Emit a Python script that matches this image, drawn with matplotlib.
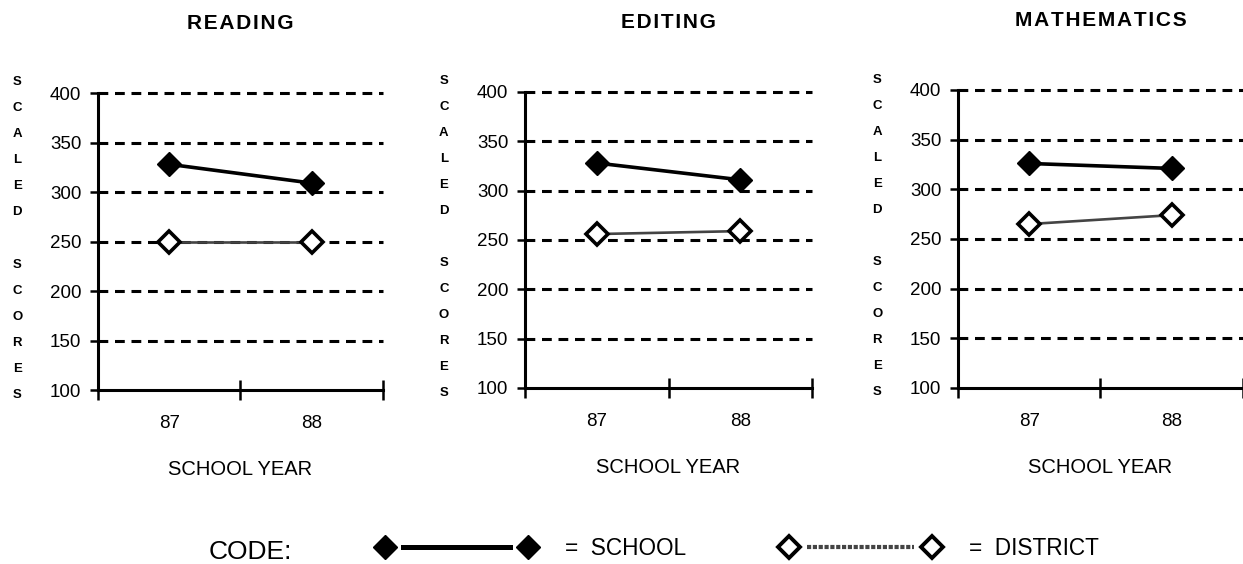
import matplotlib.pyplot as plt
from matplotlib.lines import Line2D
from matplotlib.legend_handler import HandlerLine2D

plt.rcParams['font.family'] = ['Liberation Sans', 'DejaVu Sans']

# --- data ---
years = ["87", "88"]
subjects = ["READING", "EDITING", "MATHEMATICS"]
reading_school = [328, 309]
reading_district = [250, 250]
editing_school = [328, 311]
editing_district = [256, 259]
math_school = [326, 321]
math_district = [265, 274]
y_ticks = [100, 150, 200, 250, 300, 350, 400]
axis_letters = "SCALED SCORES"

school = [reading_school, editing_school, math_school]
district = [reading_district, editing_district, math_district]

# panel boxes in figure fractions (left, bottom, width, height)
boxes = [
    (0.0788, 0.3085, 0.2293, 0.5266),
    (0.4224, 0.3121, 0.2309, 0.5248),
    (0.7707, 0.3121, 0.2293, 0.5284),
]


class GapLine(HandlerLine2D):
    """Legend key: a marker at each end, line stopping short of them."""

    def create_artists(self, legend, orig_handle, xdescent, ydescent,
                       width, height, fontsize, trans):
        xdata, _ = self.get_xdata(legend, xdescent, ydescent, width, height, fontsize)
        y = (height - ydescent) / 2
        gap = 0.8 * fontsize
        line = Line2D([xdata[0] + gap, xdata[-1] - gap], [y, y])
        self.update_prop(line, orig_handle, legend)
        line.set_marker("None")
        marks = Line2D(xdata, [y] * len(xdata))
        self.update_prop(marks, orig_handle, legend)
        marks.set_linestyle("None")
        line.set_transform(trans)
        marks.set_transform(trans)
        return [line, marks]


def spaced(s):
    return "\u200a".join(s)


fig = plt.figure(figsize=(12.43, 5.64), dpi=100)

xpos = [i + 0.5 for i in range(len(years))]
for title, sch, dist, box in zip(subjects, school, district, boxes):
    ax = fig.add_axes(box)
    ax.set_xlim(0, len(years))
    ax.set_ylim(y_ticks[0], y_ticks[-1])

    for side in ("top", "right"):
        ax.spines[side].set_visible(False)
    for side in ("left", "bottom"):
        ax.spines[side].set_linewidth(2.2)

    ax.set_yticks(y_ticks)
    ax.tick_params(axis="y", direction="out", length=6, width=1.8,
                   labelsize=13.5, pad=6)
    ax.set_xticks(range(len(years) + 1))
    ax.set_xticklabels([])
    ax.tick_params(axis="x", which="major", direction="inout", length=15, width=1.8)
    ax.set_xticks(xpos, minor=True)
    ax.set_xticklabels(years, minor=True)
    ax.tick_params(axis="x", which="minor", length=0, labelsize=13.5, pad=18)

    for y in y_ticks[1:]:
        ax.axhline(y, color="black", lw=2.2, ls=(0, (3.2, 2.2)), clip_on=False, zorder=1)

    ax.plot(xpos, sch, color="black", lw=2.6, marker="D", ms=12,
            mfc="black", mec="black", zorder=3, clip_on=False)
    ax.plot(xpos, dist, color="#444444", lw=1.9, marker="D", ms=11,
            mfc="white", mec="black", mew=2.6, zorder=3, clip_on=False)

    ax.set_title(spaced(title), fontsize=15, fontweight="bold", pad=46)
    ax.set_xlabel("SCHOOL YEAR", fontsize=14.5, labelpad=20)
    ax.text(-0.283, 0.51, "\n".join(axis_letters), transform=ax.transAxes,
            ha="center", va="center", fontsize=9.5, fontweight="bold",
            linespacing=2.56)

fig.text(0.201, 0.022, "CODE:", fontsize=19, ha="center", va="center")
handles = [
    Line2D([], [], color="black", lw=3.6, marker="D", ms=12, mfc="black", mec="black"),
    Line2D([], [], color="#444444", lw=3.0, ls=(0, (1, 0.4)), marker="D", ms=11,
           mfc="white", mec="black", mew=2.8),
]
fig.legend(handles, ["=  SCHOOL", "=  DISTRICT"], loc="center left",
           bbox_to_anchor=(0.304, 0.027), ncol=2, frameon=False, numpoints=2,
           fontsize=16.3, handlelength=6.92, handletextpad=1.34, columnspacing=4.24,
           borderpad=0, borderaxespad=0, handler_map={Line2D: GapLine()})

fig.savefig("out.png", dpi=100)
